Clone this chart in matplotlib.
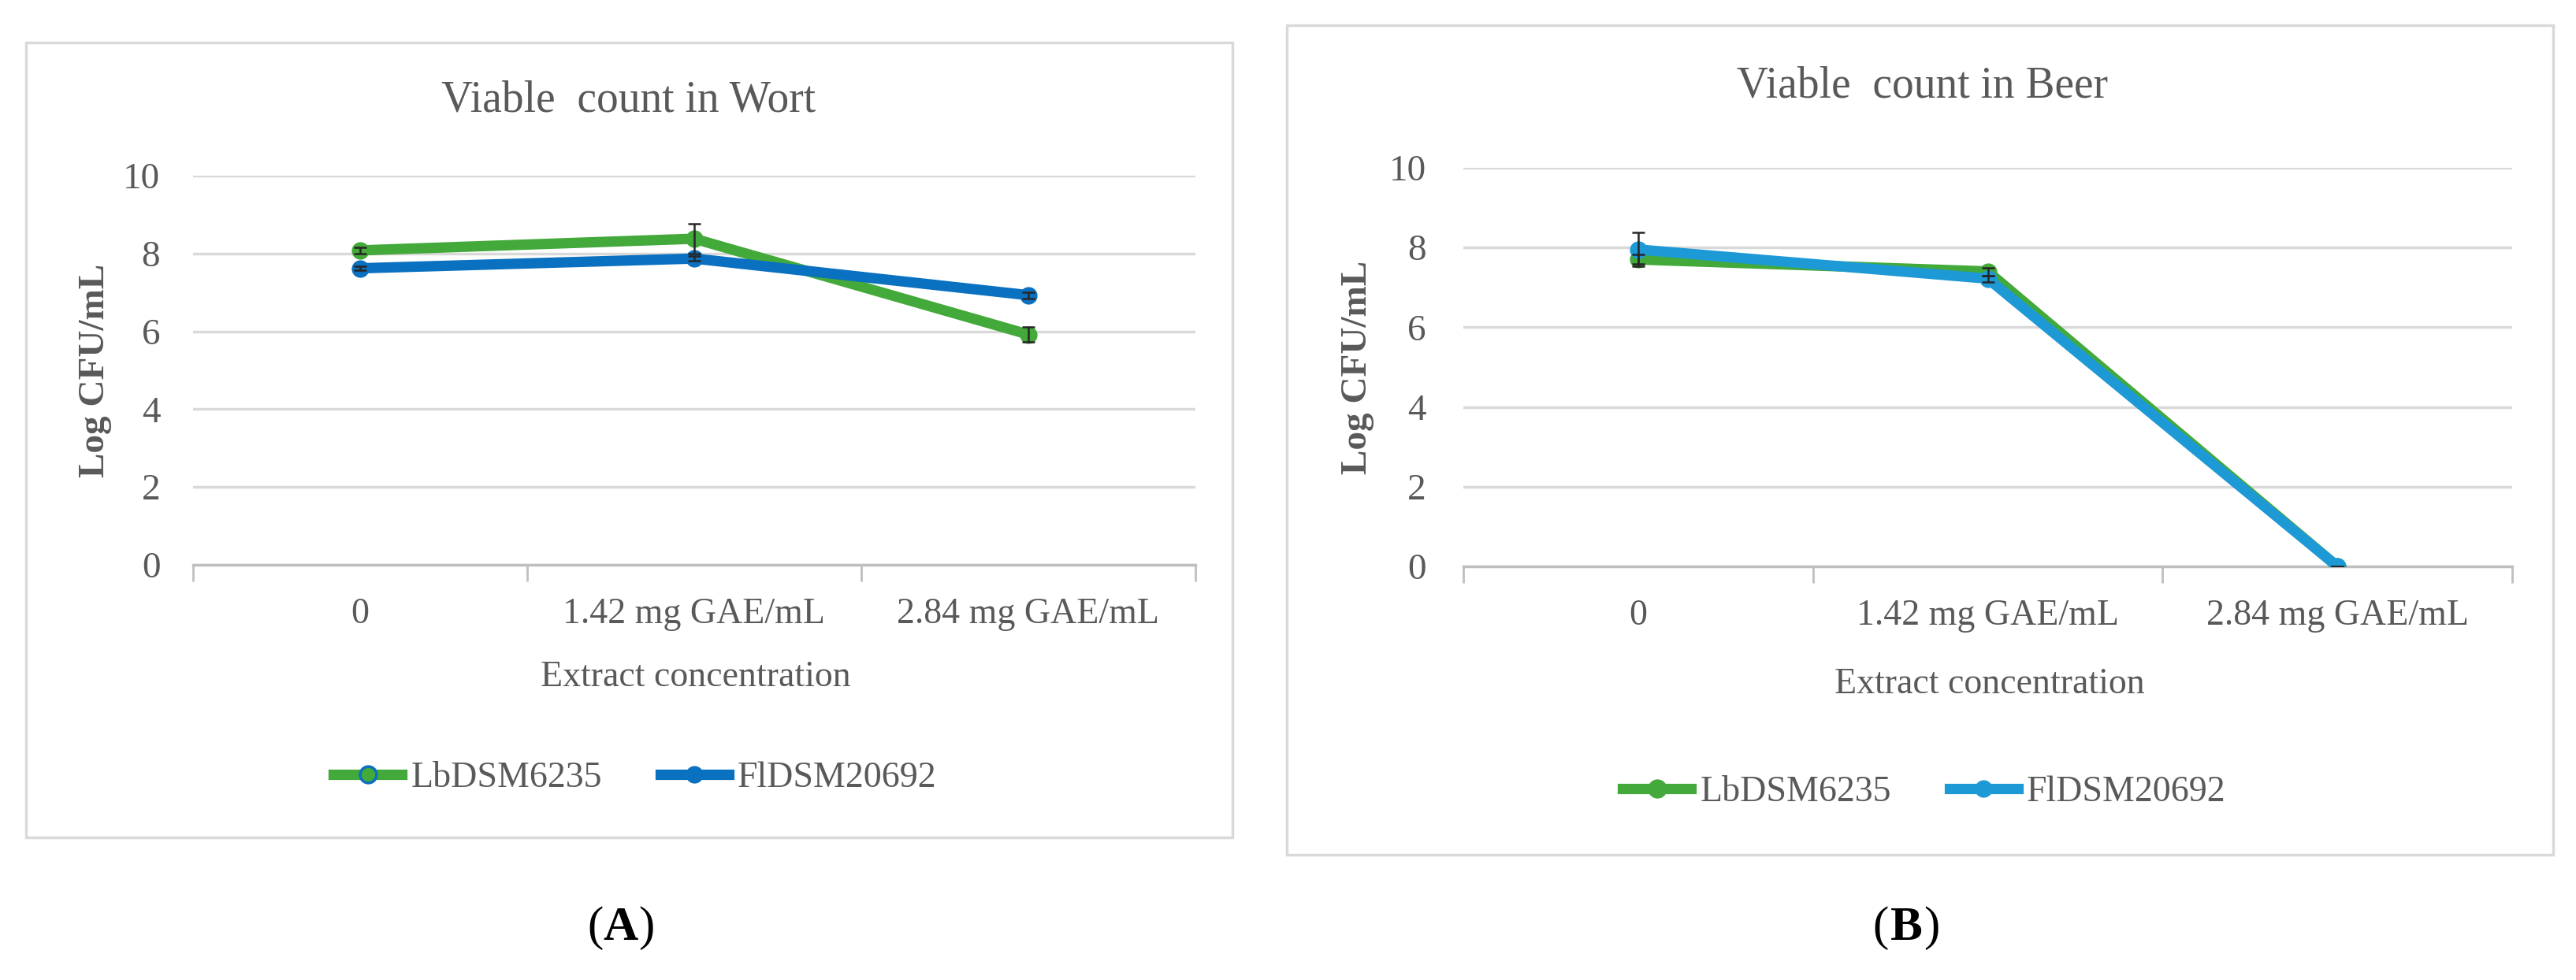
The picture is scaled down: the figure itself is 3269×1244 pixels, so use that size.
import matplotlib
matplotlib.use("Agg")
import matplotlib.pyplot as plt
from matplotlib.lines import Line2D
from matplotlib.patches import Rectangle

# data
categories = ["0", "1.42 mg GAE/mL", "2.84 mg GAE/mL"]
series_names = ["LbDSM6235", "FlDSM20692"]

wort_lb = [8.08, 8.38, 5.92]
wort_lb_err = [0.08, 0.38, 0.20]
wort_fl = [7.62, 7.87, 6.93]
wort_fl_err = [0.05, 0.06, 0.08]

beer_lb = [7.70, 7.40, 0.0]
beer_lb_err = [0.12, 0.10, 0.0]
beer_fl = [7.95, 7.22, 0.0]
beer_fl_err = [0.42, 0.08, 0.0]

yticks = [0, 2, 4, 6, 8, 10]

GREEN = "#43A93A"
BLUE_A = "#0A70C0"
BLUE_B = "#1D9AD6"
GRID = "#D9D9D9"
TEXT = "#595959"
FONT = "Liberation Serif"

plt.rcParams["font.family"] = [FONT, "DejaVu Serif"]

W, H = 3269, 1244
fig = plt.figure(figsize=(W / 100, H / 100), dpi=100)


def fx(px):
    return px / W


def fy(py):
    return 1 - py / H


def panel(rect, box, title, title_xy, xlab_xy, ylab_xy, leg_xy, tag_xy, tag,
          lb, lb_err, fl, fl_err, blue, lb_edge, ytick_pad):
    ax = fig.add_axes(rect)
    x = list(range(len(categories)))

    # outer chart frame
    fig.patches.append(Rectangle((fx(box[0]), fy(box[3])), fx(box[2] - box[0]),
                                 (box[3] - box[1]) / H, transform=fig.transFigure,
                                 fill=False, ec=GRID, lw=2.5, zorder=0))

    ax.plot(x, lb, color=GREEN, lw=9.5, marker="o", ms=15, mfc=GREEN, mec=GREEN,
            solid_joinstyle="round", solid_capstyle="round", zorder=3)
    ax.plot(x, fl, color=blue, lw=9.5, marker="o", ms=15, mfc=blue, mec=blue,
            solid_joinstyle="round", solid_capstyle="round", zorder=4)
    ax.errorbar(x, lb, yerr=lb_err, fmt="none", ecolor="#262626", elinewidth=1.8,
                capsize=6, capthick=1.8, zorder=5)
    ax.errorbar(x, fl, yerr=fl_err, fmt="none", ecolor="#262626", elinewidth=1.8,
                capsize=6, capthick=1.8, zorder=5)

    ax.set_xlim(-0.5, len(categories) - 0.5)
    ax.set_ylim(0, 10)
    ax.set_yticks(yticks)
    ax.set_yticklabels([str(t) for t in yticks], fontsize=34, color=TEXT)
    ax.tick_params(axis="y", length=0, pad=ytick_pad)
    ax.yaxis.grid(True, color=GRID, lw=2.5)
    ax.set_axisbelow(True)

    # category boundaries as ticks, labels at the centres
    ax.set_xticks([i - 0.5 for i in range(len(categories) + 1)])
    ax.set_xticklabels([])
    ax.tick_params(axis="x", which="major", length=15, width=2, color="#BFBFBF")
    ax.set_xticks(x, minor=True)
    ax.set_xticklabels(categories, minor=True, fontsize=33, color=TEXT)
    ax.tick_params(axis="x", which="minor", length=0, pad=30)

    for s in ["left", "right", "top"]:
        ax.spines[s].set_visible(False)
    ax.spines["bottom"].set_color("#BFBFBF")
    ax.spines["bottom"].set_linewidth(2.5)
    ax.patch.set_alpha(0)

    fig.text(fx(title_xy[0]), fy(title_xy[1]), title, fontsize=40, color=TEXT,
             ha="center", va="center")
    fig.text(fx(xlab_xy[0]), fy(xlab_xy[1]), "Extract concentration", fontsize=33,
             color=TEXT, ha="center", va="center")
    fig.text(fx(ylab_xy[0]), fy(ylab_xy[1]), "Log CFU/mL", fontsize=34,
             fontweight="bold", color=TEXT, ha="center", va="center", rotation=90)

    handles = [
        Line2D([], [], color=GREEN, lw=9.5, marker="o", ms=15, mfc=GREEN, mec=lb_edge, mew=2.5),
        Line2D([], [], color=blue, lw=9.5, marker="o", ms=15, mfc=blue, mec=blue),
    ]
    fig.legend(handles, series_names, loc="center", bbox_to_anchor=(fx(leg_xy[0]), fy(leg_xy[1])),
               ncol=2, frameon=False, fontsize=33, labelcolor=TEXT, handlelength=1.9,
               handletextpad=0.25, columnspacing=1.6)

    # "(A)" with a bold letter between plain parentheses
    fig.text(fx(tag_xy[0] - 22), fy(tag_xy[1]), "(", fontsize=44, color="black",
             ha="right", va="center")
    fig.text(fx(tag_xy[0]), fy(tag_xy[1]), tag, fontsize=44, fontweight="bold",
             color="black", ha="center", va="center")
    fig.text(fx(tag_xy[0] + 22), fy(tag_xy[1]), ")", fontsize=44, color="black",
             ha="left", va="center")
    return ax


# panel A: plot area 245..1517 px wide, gridline 10 at 223 px, 0 at 717 px
panel([fx(245), fy(717), fx(1517 - 245), (717 - 223) / H],
      (33, 54, 1564, 1063), "Viable  count in Wort", (798, 128), (883, 860), (121, 470),
      (806, 988), (788, 1178), "A",
      wort_lb, wort_lb_err, wort_fl, wort_fl_err, BLUE_A, BLUE_A, 30)

# panel B: plot area 1857..3188 px wide, gridline 10 at 213 px, 0 at 719 px
panel([fx(1857), fy(719), fx(3188 - 1857), (719 - 213) / H],
      (1633, 32, 3240, 1085), "Viable  count in Beer", (2440, 109), (2525, 869), (1723, 466),
      (2442, 1006), (2419, 1178), "B",
      beer_lb, beer_lb_err, beer_fl, beer_fl_err, BLUE_B, GREEN, 34)

fig.savefig("out.png", dpi=100, facecolor="white")
